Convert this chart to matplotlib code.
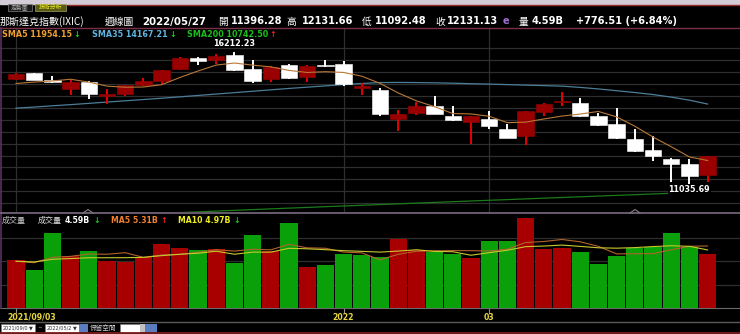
import matplotlib
matplotlib.use("Agg")
import matplotlib.pyplot as plt
import numpy as np
import pandas as pd

# weekly candles, 2021/09/03 .. 2022/05/27
opens = [15160, 15375, 15110, 14760, 15030, 14500, 14570, 14925, 15080, 15530,
         15990, 15880, 16100, 15530, 15150, 15690, 15225, 15700, 15732, 14800,
         14700, 13600, 13800, 14100, 13700, 13480, 13600, 13200, 12900, 13850,
         14250, 14200, 13700, 13400, 12800, 12350, 12000, 11800, 11396.28]
highs = [15403, 15404, 15260, 15120, 15090, 14740, 14925, 15200, 15504, 16000,
         16025, 16140, 16212.23, 15880, 15660, 15720, 15700, 15900, 15853, 15000,
         14800, 13950, 14250, 14490, 14080, 13700, 13900, 13370, 13900, 14200,
         14647, 14400, 13800, 14000, 13200, 12900, 12050, 12000, 12131.66]
lows = [15125, 15100, 14990, 14530, 14353, 14181, 14500, 14870, 14950, 15500,
        15700, 15745, 15480, 15000, 15040, 15150, 15020, 15620, 14860, 14530,
        13700, 13095, 13750, 13780, 13500, 12588, 13200, 12830, 12555, 13700,
        14100, 13660, 13300, 12800, 12300, 11950, 11108, 11035.69, 11092.48]
closes = [15364, 15115, 15044, 15048, 14567, 14580, 14897, 15090, 15498, 15972,
          15861, 16057, 15492, 15085, 15630, 15170, 15653, 15645, 14936, 14894,
          13769, 13771, 14098, 13791, 13548, 13695, 13313, 12844, 13894, 14169,
          14262, 13711, 13351, 12839, 12335, 12145, 11805, 11354.62, 12131.13]
prior_closes = [14835.76, 14822.90, 14714.66, 15129.50]

# volume in billions
volumes = [4.09, 3.29, 6.38, 4.43, 4.89, 4.00, 3.95, 4.38, 5.47, 5.10,
           4.95, 5.01, 3.81, 6.24, 4.86, 7.29, 3.52, 3.64, 4.61, 4.52,
           4.32, 5.87, 4.95, 4.80, 4.61, 4.29, 5.72, 5.72, 7.67, 5.04,
           5.15, 4.75, 3.75, 4.46, 5.10, 5.18, 6.43, 5.23, 4.59]
prior_volumes = [3.9, 4.1, 3.8, 4.2, 4.0, 3.9, 4.1, 4.0, 3.9]

sma35 = [14006, 14050, 14100, 14145, 14195, 14245, 14295, 14345, 14395, 14450,
         14505, 14560, 14615, 14670, 14725, 14780, 14830, 14880, 14930, 14975,
         15010, 15015, 15010, 15000, 14985, 14965, 14950, 14930, 14910, 14890,
         14870, 14820, 14760, 14690, 14620, 14540, 14440, 14320, 14167.21]
sma200 = [9640, 9668, 9700, 9728, 9760, 9790, 9822, 9850, 9880, 9912,
          9940, 9972, 10000, 10030, 10058, 10088, 10115, 10145, 10172, 10200,
          10228, 10255, 10285, 10312, 10340, 10368, 10395, 10422, 10450, 10478,
          10505, 10532, 10560, 10588, 10615, 10642, 10670, 10705, 10742.50]

tick_idx = [0, 18, 26]
tick_labels = ["2021/09/03", "2022", "03"]

W, H = 740, 334
n = len(closes)
idx = np.arange(n)

sma5 = pd.Series(prior_closes + closes).rolling(5).mean().values[len(prior_closes):]
vall = pd.Series(prior_volumes + volumes)
vma5 = vall.rolling(5).mean().values[len(prior_volumes):]
vma10 = vall.rolling(10).mean().values[len(prior_volumes):]


def box(x0, y0, x1, y1):
    return [x0 / W, 1 - y1 / H, (x1 - x0) / W, (y1 - y0) / H]


fig = plt.figure(figsize=(7.4, 3.34), dpi=100, facecolor="black")

step = 18.2
xlim = (-16 / step, (W - 16) / step)

# price panel
ax = fig.add_axes(box(0, 28, W, 212))
ax.set_facecolor("black")
ax.set_xlim(*xlim)
ax.set_ylim(9936, 17149)
ax.set_yticks(np.arange(16353, 9936, -467))
ax.set_xticks(tick_idx)
ax.grid(True, color="#2e2e2e", lw=0.9)
ax.tick_params(length=0, labelbottom=False, labelleft=False)
for s in ax.spines.values():
    s.set_visible(False)

for i in idx:
    o, h, l, c = opens[i], highs[i], lows[i], closes[i]
    up = c >= o
    wick = "#e80000" if up else "white"
    body = "#9a0000" if up else "white"
    ax.vlines(i, l, h, color=wick, lw=1.4, zorder=3)
    ax.bar(i, max(abs(c - o), 40), bottom=min(o, c), width=0.9,
           color=body, edgecolor=body, lw=0.4, zorder=4)

ax.plot(idx, sma5, color="#b87838", lw=0.8, zorder=5)
ax.plot(idx, sma35, color="#4c7d98", lw=0.9, zorder=2)
ax.plot(idx, sma200, color="#1c7a1c", lw=0.9, zorder=2)

imax = int(np.argmax(highs))
imin = int(np.argmin(lows))
ax.annotate(f"{highs[imax]:.2f}", xy=(imax, highs[imax]), xytext=(0, 8),
            textcoords="offset pixels", ha="center", va="center",
            color="white", fontsize=5.8, fontweight="bold", zorder=6)
ax.annotate(f"{lows[imin]:.2f}", xy=(imin, lows[imin]), xytext=(0, -6),
            textcoords="offset pixels", ha="center", va="center",
            color="white", fontsize=5.8, fontweight="bold", zorder=6,
            bbox=dict(boxstyle="square,pad=0.05", fc="black", ec="none"))

# volume panel
axv = fig.add_axes(box(0, 214, W, 308))
axv.set_facecolor("black")
axv.set_xlim(*xlim)
axv.set_ylim(0, 8.04)
axv.set_yticks([2, 4, 6])
axv.grid(True, axis="y", color="#2e2e2e", lw=0.9)
axv.set_xticks(tick_idx)
axv.set_xticklabels([])
axv.tick_params(axis="x", length=3.5, color="#909090")
axv.tick_params(axis="y", length=0, labelleft=False)
for s in axv.spines.values():
    s.set_visible(False)
axv.spines["bottom"].set_visible(True)
axv.spines["bottom"].set_color("#6a6a6a")
for k, (t, lab) in enumerate(zip(tick_idx, tick_labels)):
    axv.annotate(lab, xy=(t - 0.5 if k == 0 else t, 0), xytext=(0, -9.5),
                 textcoords="offset pixels", ha="left" if k == 0 else "center",
                 va="center", color="#e8d840", fontsize=5.6, fontweight="bold",
                 annotation_clip=False)

prev = [prior_closes[-1]] + closes[:-1]
vcol = ["#a80000" if c >= p else "#0aa00a" for c, p in zip(closes, prev)]
axv.bar(idx, volumes, width=0.94, color=vcol, zorder=3)
axv.plot(idx, vma5, color="#b0642c", lw=0.8, zorder=4)
axv.plot(idx, vma10, color="#c8c830", lw=0.8, zorder=4)

# frame, header and toolbar drawn in pixel coords
d = fig.add_axes([0, 0, 1, 1])
d.set_xlim(0, W)
d.set_ylim(H, 0)
d.axis("off")
d.set_zorder(5)

cjk = ["Noto Sans CJK TC", "DejaVu Sans"]

d.add_patch(plt.Rectangle((0, 0), W, 3.5, color="#d4ccd6"))
d.plot([68, W], [4.5, 4.5], color="#9a2a2a", lw=1)
d.add_patch(plt.Rectangle((8, 3.5), 24, 7, fc="#1a1a1a", ec="#808080", lw=0.5))
d.text(20, 7.3, "走勢圖", color="#b0b0b0", fontsize=4.2, family=cjk, ha="center", va="center")
d.add_patch(plt.Rectangle((35, 3.5), 31, 7, fc="#5a5a18", ec="#a0a060", lw=0.5))
d.text(50.5, 7.3, "技術分析", color="#f0f020", fontsize=4.2, family=cjk, ha="center", va="center")

hy = 21.5
d.text(0, hy, "那斯達克指數(IXIC)", color="white", fontsize=7.2, family=cjk, va="center")
d.text(105, hy, "週線圖", color="white", fontsize=7, family=cjk, va="center")
d.text(142, hy, "2022/05/27", color="white", fontsize=7.4, fontweight="bold", va="center")
for x, s in [(218, "開"), (286, "高"), (362, "低"), (435, "收"), (519, "量")]:
    d.text(x, hy, s, color="white", fontsize=7, family=cjk, va="center")
for x, v in [(231, opens[-1]), (302, highs[-1]), (375, lows[-1]), (447, closes[-1])]:
    d.text(x, hy, f"{v:.2f}", color="white", fontsize=7.1, fontweight="bold", va="center")
d.text(503, hy, "e", color="#a070d0", fontsize=7, fontweight="bold", va="center")
d.text(532, hy, f"{volumes[-1]:.2f}B", color="white", fontsize=7.1, fontweight="bold", va="center")
chg = closes[-1] - closes[-2]
d.text(576, hy, f"+{chg:.2f} (+{chg / closes[-2] * 100:.2f}%)", color="white",
       fontsize=7.1, fontweight="bold", va="center")

d.plot([0, W], [28.3, 28.3], color="#7a3048", lw=1)
d.plot([0.6, 0.6], [28, 308], color="#5a3060", lw=1.2)
d.plot([0, W], [213.3, 213.3], color="#7a6a7e", lw=1.2)
for cx in [88, 635]:
    d.plot([cx - 5, cx, cx + 5], [213, 209.5, 213], color="#8a7a8a", lw=0.8)

ly = 34.5
lf = dict(fontsize=5.8, fontweight="bold", va="center")
d.text(2, ly, f"SMA5 {sma5[-1]:.2f}", color="#f0a030", **lf)
d.text(73, ly, "↓", color="#20d020", **lf)
d.text(92, ly, f"SMA35 {sma35[-1]:.2f}", color="#60b4e0", **lf)
d.text(169, ly, "↓", color="#20d020", **lf)
d.text(187, ly, f"SMA200 {sma200[-1]:.2f}", color="#18c018", **lf)
d.text(269, ly, "↑", color="#ff2020", **lf)

vy = 220.5
vf = dict(fontsize=5.6, fontweight="bold", va="center")
d.text(2, vy, "成交量", color="#c8c8c8", fontsize=5.8, family=cjk, va="center")
d.text(38, vy, "成交量", color="#e0e0e0", fontsize=5.8, family=cjk, va="center")
d.text(65, vy, f"{volumes[-1]:.2f}B", color="white", **vf)
d.text(93, vy, "↓", color="#20d020", **vf)
d.text(111, vy, f"MA5 {vma5[-1]:.2f}B", color="#f08030", **vf)
d.text(160, vy, "↑", color="#ff2020", **vf)
d.text(178, vy, f"MA10 {vma10[-1]:.2f}B", color="#f0f020", **vf)
d.text(233, vy, "↓", color="#20d020", **vf)

# bottom toolbar
d.plot([0, W], [322, 322], color="#5a5a5a", lw=1)
d.plot([0, W], [333, 333], color="#8a2020", lw=1.2)
tb = dict(fontsize=3.6, va="center")
d.add_patch(plt.Rectangle((1, 324), 34, 7.5, fc="white", ec="#808080", lw=0.4))
d.text(3, 327.8, "2021/09/0", color="#303030", **tb)
d.text(29, 327.8, "▼", color="#303030", **tb)
d.text(37.5, 327.5, "~", color="#d0d0d0", fontsize=4, va="center")
d.add_patch(plt.Rectangle((45, 324), 34, 7.5, fc="white", ec="#808080", lw=0.4))
d.text(47, 327.8, "2022/05/2", color="#303030", **tb)
d.text(73, 327.8, "▼", color="#303030", **tb)
d.add_patch(plt.Rectangle((80, 324), 8, 7.5, fc="#5a7cc0", ec="none"))
d.text(90, 327.8, "保留空間", color="#d0d0d0", fontsize=4.8, family=cjk, va="center")
d.add_patch(plt.Rectangle((120, 324), 20, 7.5, fc="white", ec="#808080", lw=0.4))
d.add_patch(plt.Rectangle((140, 324), 5, 7.5, fc="#c0c0c0", ec="none"))
d.add_patch(plt.Rectangle((145, 324), 12, 7.5, fc="#5a7cc0", ec="none"))

fig.savefig("out.png", dpi=100, facecolor="black")
